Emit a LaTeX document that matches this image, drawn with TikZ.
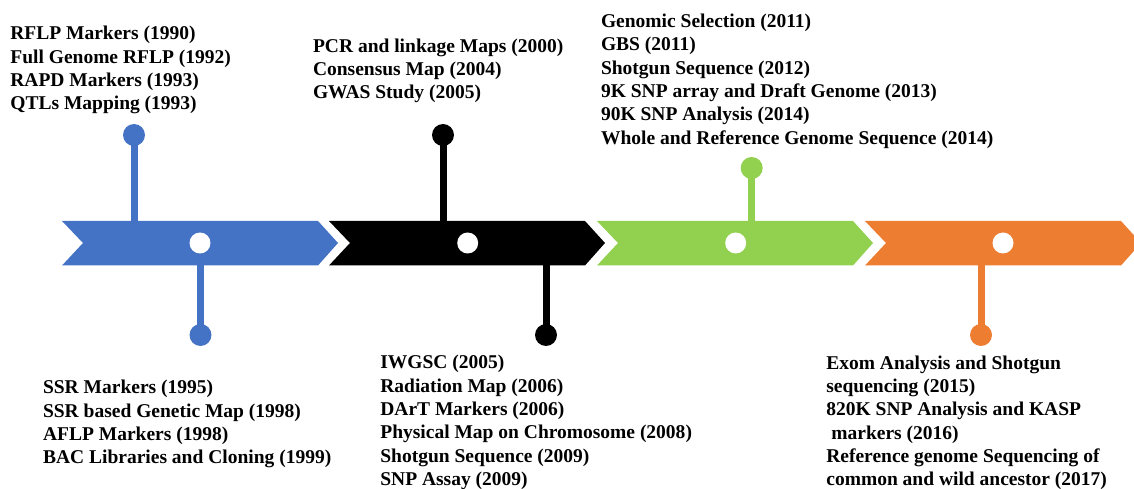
\documentclass[tikz,border=0pt]{standalone}
\usepackage{fontspec}
\setmainfont{Liberation Serif}
\definecolor{tlblue}{HTML}{4472C4}
\definecolor{tlgreen}{HTML}{92D050}
\definecolor{tlorange}{HTML}{ED7D31}
\tikzset{
  event/.style={anchor=north west,inner sep=0pt,align=left,
    font=\fontsize{11.1}{13.3}\selectfont\bfseries},
  knob/.style={circle,fill,inner sep=0pt,minimum size=0.44cm},
  hole/.style={circle,fill=white,inner sep=0pt,minimum size=0.42cm},
  stem/.style={line width=0.14cm}
}
\begin{document}
\begin{tikzpicture}[x=0.02cm,y=-0.02cm]
\useasboundingbox (0,0) rectangle (1134,489);
\clip (0,0) rectangle (1134,489);

\fill[tlblue] (62,221) -- (318,221) -- (338,243) -- (318,265.5) -- (62,265.5) -- (83,243) -- cycle;
\fill[black] (329,221) -- (585,221) -- (605,243) -- (585,265.5) -- (329,265.5) -- (350,243) -- cycle;
\fill[tlgreen] (597,221) -- (853,221) -- (873,243) -- (853,265.5) -- (597,265.5) -- (618,243) -- cycle;
\fill[tlorange] (865,221) -- (1121,221) -- (1141,243) -- (1121,265.5) -- (865,265.5) -- (886,243) -- cycle;

\node[hole] (blueDot) at (200,243) {};
\node[hole] (blackDot) at (467.7,243) {};
\node[hole] (greenDot) at (735.7,243) {};
\node[hole] (orangeDot) at (1003,243) {};

\coordinate (blueUp) at (134,221);
\coordinate (blueDown) at (200.5,265.5);
\coordinate (blackUp) at (443,221);
\coordinate (blackDown) at (546,265.5);
\coordinate (greenUp) at (751.7,221);
\coordinate (orangeDown) at (981,265.5);

\node[knob,tlblue] (blueTop) at (134,135) {};
\node[knob,tlblue] (blueLow) at (200.5,335) {};
\node[knob,black] (blackTop) at (443,135) {};
\node[knob,black] (blackLow) at (546,335) {};
\node[knob,tlgreen] (greenTop) at (751.7,168) {};
\node[knob,tlorange] (orangeLow) at (981,335) {};

\draw[stem,tlblue] (blueUp) -- (blueTop.center);
\draw[stem,tlblue] (blueDown) -- (blueLow.center);
\draw[stem,black] (blackUp) -- (blackTop.center);
\draw[stem,black] (blackDown) -- (blackLow.center);
\draw[stem,tlgreen] (greenUp) -- (greenTop.center);
\draw[stem,tlorange] (orangeDown) -- (orangeLow.center);

\node[event] (eventsA) at (10,25.8) {RFLP Markers (1990)\\Full Genome RFLP (1992)\\RAPD Markers (1993)\\QTLs Mapping (1993)};
\node[event] (eventsB) at (42.7,379.8) {SSR Markers (1995)\\SSR based Genetic Map (1998)\\AFLP Markers (1998)\\BAC Libraries and Cloning (1999)};
\node[event] (eventsC) at (312.7,38.2) {PCR and linkage Maps (2000)\\Consensus Map (2004)\\GWAS Study (2005)};
\node[event] (eventsD) at (380,354.8) {IWGSC (2005)\\Radiation Map (2006)\\DArT Markers (2006)\\Physical Map on Chromosome (2008)\\Shotgun Sequence (2009)\\SNP Assay (2009)};
\node[event] (eventsE) at (600.7,13.5) {Genomic Selection (2011)\\GBS (2011)\\Shotgun Sequence (2012)\\9K SNP array and Draft Genome (2013)\\90K SNP Analysis (2014)\\Whole and Reference Genome Sequence (2014)};
\node[event] (eventsF) at (826,355.2) {Exom Analysis and Shotgun\\sequencing (2015)\\820K SNP Analysis and KASP\\\hspace{0.1cm}markers (2016)\\Reference genome Sequencing of\\common and wild ancestor (2017)};

\end{tikzpicture}
\end{document}
